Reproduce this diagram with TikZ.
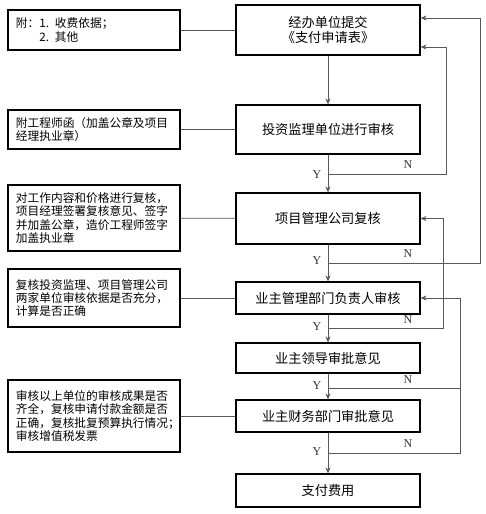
\documentclass[tikz,border=0pt]{standalone}
\usepackage{fontspec}
\setmainfont{Liberation Serif}
\newfontfamily\cjk{Noto Sans CJK SC}
\usetikzlibrary{arrows.meta}
\begin{document}
\begin{tikzpicture}[x=1pt,y=-1pt,
  mainbox/.style={draw, line width=1.1pt, minimum width=184pt, align=center, inner sep=0pt,
    font=\cjk\fontsize{13.2}{15}\selectfont},
  notebox/.style={draw, line width=1.1pt, minimum width=172pt, text width=156pt, inner xsep=8pt, inner ysep=0pt,
    align=left, font=\cjk\fontsize{11.7}{13.4}\selectfont},
  link/.style={draw=black!65, line width=0.8pt},
  arr/.style={link, -{Stealth[length=6pt,width=5pt]}},
  yn/.style={font=\fontsize{12}{12}\selectfont, inner sep=0pt, text=black!80}
]
\useasboundingbox (0,0) rectangle (485,514);
% main boxes
\node[mainbox, minimum height=50pt] (b1) at (328,30) {经办单位提交\\《支付申请表》};
\node[mainbox, minimum height=49pt] (b2) at (328,129.5) {投资监理单位进行审核};
\node[mainbox, minimum height=51pt] (b3) at (328,218.5) {项目管理公司复核};
\node[mainbox, minimum height=32pt] (b4) at (328,298) {业主管理部门负责人审核};
\node[mainbox, minimum height=30pt] (b5) at (328,358) {业主领导审批意见};
\node[mainbox, minimum height=32pt] (b6) at (328,416) {业主财务部门审批意见};
\node[mainbox, minimum height=33pt] (b7) at (328,490.5) {支付费用};
% note boxes
\node[notebox, minimum height=40pt] (l1) at (94,30) {附：1. 收费依据；\\\hphantom{附：}2. 其他};
\node[notebox, minimum height=39pt] (l2) at (94,129.5) {附工程师函（加盖公章及项目\\经理执业章）};
\node[notebox, minimum height=66pt] (l3) at (94,218) {对工作内容和价格进行复核，\\项目经理签署复核意见、签字\\并加盖公章，造价工程师签字\\加盖执业章};
\node[notebox, minimum height=58pt] (l4) at (94,298) {复核投资监理、项目管理公司\\两家单位审核依据是否充分，\\计算是否正确};
\node[notebox, minimum height=72pt] (l5) at (94,416) {审核以上单位的审核成果是否\\齐全，复核申请付款金额是否\\正确，复核批复预算执行情况；\\审核增值税发票};
% note links
\draw[link] (l1) -- (b1);
\draw[link] (l2) -- (b2);
\draw[link] (l3) -- (b3);
\draw[link] (l4) -- (b4);
\draw[link] (l5) -- (b6);
% feedback coordinates
\coordinate (n2) at (328,174); \coordinate (r2) at (446,174); \coordinate (t2) at (446,47);
\coordinate (n3) at (328,263); \coordinate (r3) at (480,263); \coordinate (t3) at (480,18);
\coordinate (n4) at (328,328); \coordinate (r4) at (443,328); \coordinate (t4) at (443,218.5);
\coordinate (n5) at (328,388); \coordinate (r5) at (460,388); \coordinate (t5) at (460,298);
\coordinate (n6) at (328,453); \coordinate (r6) at (460,453);
\draw[arr] (n2) -- (r2) -- (t2) -- (t2 -| b1.east);
\draw[arr] (n3) -- (r3) -- (t3) -- (t3 -| b1.east);
\draw[arr] (n4) -- (r4) -- (t4) -- (t4 -| b3.east);
\draw[arr] (n5) -- (r5) -- (t5) -- (t5 -| b4.east);
\draw[link] (n6) -- (r6) -- (r5);
% main flow
\draw[arr] (b1) -- (b2);
\draw[arr] (b2) -- (b3);
\draw[arr] (b3) -- (b4);
\draw[arr] (b4) -- (b5);
\draw[arr] (b5) -- (b6);
\draw[arr] (b6) -- (b7);
% labels
\node[yn] (y2) at (317,175) {Y}; \node[yn] (nn2) at (408,165) {N};
\node[yn] (y3) at (317,261) {Y}; \node[yn] (nn3) at (408,254) {N};
\node[yn] (y4) at (317,327) {Y}; \node[yn] (nn4) at (408,320) {N};
\node[yn] (y5) at (317,386) {Y}; \node[yn] (nn5) at (408,380) {N};
\node[yn] (y6) at (317,452) {Y}; \node[yn] (nn6) at (408,444) {N};
\end{tikzpicture}
\end{document}
